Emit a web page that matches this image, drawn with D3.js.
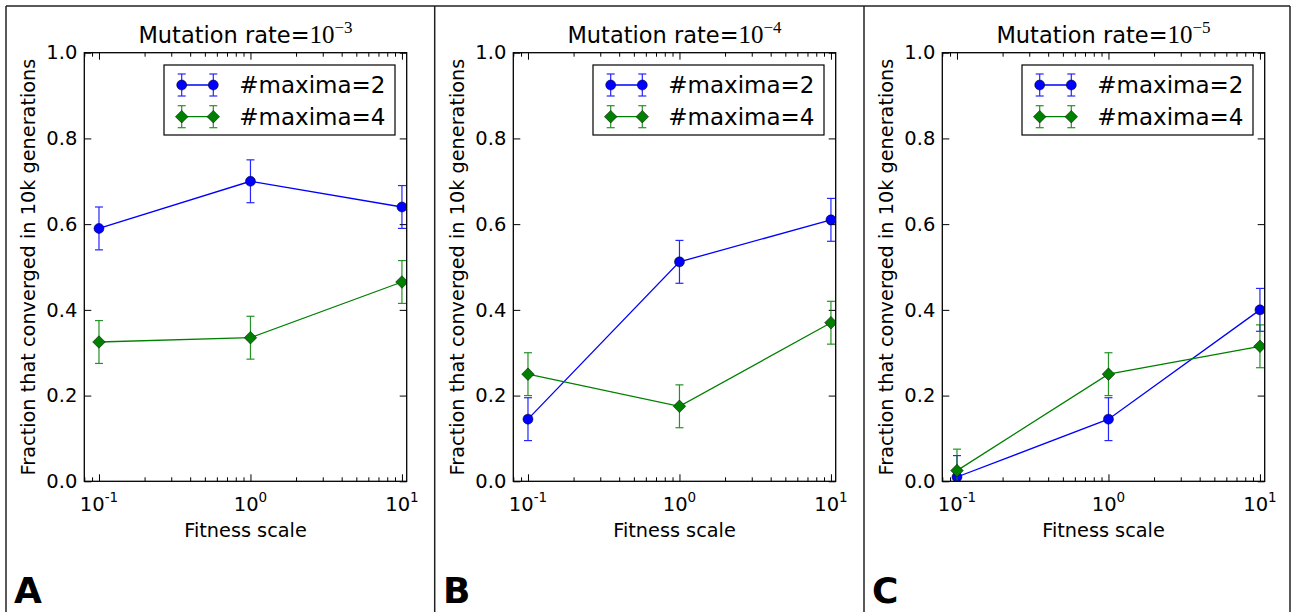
<!DOCTYPE html>
<html>
<head>
<meta charset="utf-8">
<script src="https://cdn.jsdelivr.net/npm/d3@7"></script>
<style>
  html, body { margin: 0; padding: 0; background: #fff; }
  svg { display: block; }
  text { font-family: "DejaVu Sans", sans-serif; fill: #000; }
</style>
</head>
<body>
<svg id="fig" width="1291" height="612"></svg>
<script>
// Fitness scale values on the x axis (log scale)
const fitnessScale = [0.1, 1, 10];

// Panels: mutation-rate exponent and panel letter
const rateExponents = [-3, -4, -5];
const panelLetters = ["A", "B", "C"];

// Series names
const seriesNames = ["#maxima=2", "#maxima=4"];

// Fraction converged in 10k generations, per panel
const maxima2_A = [0.59, 0.70, 0.64];
const maxima4_A = [0.325, 0.335, 0.465];
const maxima2_B = [0.145, 0.512, 0.61];
const maxima4_B = [0.25, 0.175, 0.37];
const maxima2_C = [0.01, 0.145, 0.40];
const maxima4_C = [0.025, 0.25, 0.315];

// Error bar half-lengths
const err2 = [0.05, 0.05, 0.05];
const err4 = [0.05, 0.05, 0.05];

// Axis ticks
const yTicks = [0.0, 0.2, 0.4, 0.6, 0.8, 1.0];
const xMajorTicks = [0.1, 1, 10];
const xTickExponents = ["-1", "0", "1"];

const panels = [
  { exp: rateExponents[0], letter: panelLetters[0], s2: maxima2_A, s4: maxima4_A },
  { exp: rateExponents[1], letter: panelLetters[1], s2: maxima2_B, s4: maxima4_B },
  { exp: rateExponents[2], letter: panelLetters[2], s2: maxima2_C, s4: maxima4_C }
];

const svg = d3.select("#fig");

// layout
const panelW = 429;
const panelLeft0 = 6;
const axOffX = 78.3, axTop = 52.7, axW = 322.4, axH = 428.6;
const BLUE = "#0000ff", GREEN = "#008000";
const FS_TICK = 19.5, FS_LABEL = 19.3, FS_TITLE = 22.5, FS_LEGEND = 23;

const x = d3.scaleLog().domain([0.08, 10.75]).range([0, axW]);
const y = d3.scaleLinear().domain([0, 1]).range([axH, 0]);

const minorTicks = [];
[0.01, 0.1, 1].forEach(d => { for (let k = 2; k <= 9; k++) minorTicks.push(d * k); });
const xMinor = minorTicks.filter(v => v >= 0.08 && v <= 10.75 && !xMajorTicks.includes(v));

// outer frame lines
const frame = svg.append("g").attr("stroke", "#222").attr("stroke-width", 1.5).attr("fill", "none");
frame.append("line").attr("x1", panelLeft0).attr("x2", 1290).attr("y1", 6).attr("y2", 6);
[0, 1, 2, 3].forEach(i => {
  const fx = i < 3 ? panelLeft0 + i * panelW - (i === 1 ? 0.3 : 0) : 1290;
  frame.append("line").attr("x1", fx).attr("x2", fx).attr("y1", 6).attr("y2", 612);
});

panels.forEach((p, i) => {
  const pLeft = panelLeft0 + i * panelW;
  const g = svg.append("g").attr("transform", `translate(${pLeft + axOffX},${axTop})`);

  const clipId = "clip" + i;
  g.append("clipPath").attr("id", clipId)
    .append("rect").attr("x", 0).attr("y", 0).attr("width", axW).attr("height", axH);

  // ticks (inward, all four sides)
  g.append("g").attr("transform", `translate(0,${axH})`)
    .call(d3.axisBottom(x).tickValues(xMajorTicks).tickSize(-7).tickFormat(""));
  g.append("g").attr("transform", `translate(0,${axH})`)
    .call(d3.axisBottom(x).tickValues(xMinor).tickSize(-4).tickFormat(""));
  g.append("g").call(d3.axisTop(x).tickValues(xMajorTicks).tickSize(-7).tickFormat(""));
  g.append("g").call(d3.axisTop(x).tickValues(xMinor).tickSize(-4).tickFormat(""));
  const yl = g.append("g").call(d3.axisLeft(y).tickValues(yTicks).tickSize(-7).tickPadding(7).tickFormat(d3.format(".1f")));
  g.append("g").attr("transform", `translate(${axW},0)`).call(d3.axisRight(y).tickValues(yTicks).tickSize(-7).tickFormat(""));
  g.selectAll(".domain").remove();
  g.selectAll(".tick line").attr("stroke", "#000").attr("stroke-width", 1);
  yl.selectAll("text").attr("font-family", "DejaVu Sans").attr("font-size", FS_TICK).attr("fill", "#000");

  // x tick labels with superscript exponents
  xMajorTicks.forEach((v, k) => {
    const t = g.append("text").attr("x", x(v)).attr("y", axH + 29.5)
      .attr("text-anchor", "middle").attr("font-size", FS_TICK);
    t.append("tspan").text("10");
    t.append("tspan").attr("dy", -9).attr("font-size", 13.5).text(xTickExponents[k]);
  });

  // series: error bars, lines, markers
  const plot = g.append("g").attr("clip-path", `url(#${clipId})`);
  const series = [
    { vals: p.s2, err: err2, color: BLUE, shape: "circle" },
    { vals: p.s4, err: err4, color: GREEN, shape: "diamond" }
  ];
  series.forEach(s => {
    const pts = fitnessScale.map((f, k) => ({ f, v: s.vals[k], e: s.err[k] }));
    const eb = plot.append("g").attr("stroke", s.color).attr("stroke-width", 1.2).attr("opacity", 0.85);
    pts.forEach(d => {
      eb.append("line").attr("x1", x(d.f)).attr("x2", x(d.f)).attr("y1", y(d.v - d.e)).attr("y2", y(d.v + d.e));
      [d.v - d.e, d.v + d.e].forEach(c => {
        eb.append("line").attr("x1", x(d.f) - 4).attr("x2", x(d.f) + 4).attr("y1", y(c)).attr("y2", y(c));
      });
    });
    plot.append("path").datum(pts)
      .attr("d", d3.line().x(d => x(d.f)).y(d => y(d.v)))
      .attr("fill", "none").attr("stroke", s.color).attr("stroke-width", 1.3);
    const sym = d3.symbol(d3.symbolCircle, Math.PI * 25);
    pts.forEach(d => {
      if (s.shape === "circle") {
        plot.append("path").attr("d", sym()).attr("transform", `translate(${x(d.f)},${y(d.v)})`)
          .attr("fill", s.color).attr("stroke", "#000").attr("stroke-width", 0.5);
      } else {
        const h = 6.3;
        plot.append("path").attr("d", `M0,${-h}L${h},0L0,${h}L${-h},0Z`)
          .attr("transform", `translate(${x(d.f)},${y(d.v)})`)
          .attr("fill", s.color).attr("stroke", "#000").attr("stroke-width", 0.5);
      }
    });
  });

  // spines
  g.append("rect").attr("x", 0).attr("y", 0).attr("width", axW).attr("height", axH)
    .attr("fill", "none").attr("stroke", "#000").attr("stroke-width", 1.3);

  // legend
  const lgW = 231, lgH = 70;
  const lg = g.append("g").attr("transform", `translate(${axW - 11.7 - lgW},12.3)`);
  lg.append("rect").attr("width", lgW).attr("height", lgH).attr("fill", "#fff")
    .attr("stroke", "#000").attr("stroke-width", 1.2);
  series.forEach((s, k) => {
    const ry = 20 + k * 31.7;
    const hx = [17.7, 49.3];
    lg.append("line").attr("x1", hx[0]).attr("x2", hx[1]).attr("y1", ry).attr("y2", ry)
      .attr("stroke", s.color).attr("stroke-width", 1.3);
    hx.forEach(cx => {
      const eb = lg.append("g").attr("stroke", s.color).attr("stroke-width", 1.2).attr("opacity", 0.85);
      eb.append("line").attr("x1", cx).attr("x2", cx).attr("y1", ry - 11).attr("y2", ry + 11);
      eb.append("line").attr("x1", cx - 4).attr("x2", cx + 4).attr("y1", ry - 11).attr("y2", ry - 11);
      eb.append("line").attr("x1", cx - 4).attr("x2", cx + 4).attr("y1", ry + 11).attr("y2", ry + 11);
      if (s.shape === "circle") {
        lg.append("circle").attr("cx", cx).attr("cy", ry).attr("r", 5)
          .attr("fill", s.color).attr("stroke", "#000").attr("stroke-width", 0.5);
      } else {
        const h = 6.3;
        lg.append("path").attr("d", `M${cx},${ry - h}L${cx + h},${ry}L${cx},${ry + h}L${cx - h},${ry}Z`)
          .attr("fill", s.color).attr("stroke", "#000").attr("stroke-width", 0.5);
      }
    });
    lg.append("text").attr("x", 75.3).attr("y", ry).attr("dy", "0.36em")
      .attr("font-size", FS_LEGEND).text(seriesNames[k]);
  });

  // title
  const tt = g.append("text").attr("x", axW / 2).attr("y", -10).attr("text-anchor", "middle");
  tt.append("tspan").attr("font-size", FS_TITLE).text("Mutation rate=");
  tt.append("tspan").attr("font-family", "Liberation Serif").attr("font-size", 25).text("10");
  tt.append("tspan").attr("font-family", "Liberation Serif").attr("font-size", 17).attr("dy", -10)
    .text("\u2212" + String(-p.exp));

  // axis labels
  g.append("text").attr("x", axW / 2).attr("y", axH + 56).attr("text-anchor", "middle")
    .attr("font-size", FS_LABEL).text("Fitness scale");
  g.append("text").attr("transform", `translate(-49.5,${axH / 2}) rotate(-90)`)
    .attr("text-anchor", "middle").attr("font-size", FS_LABEL)
    .text("Fraction that converged in 10k generations");

  // panel letter
  svg.append("text").attr("x", pLeft + 8).attr("y", 602.7)
    .attr("font-family", "Liberation Sans").attr("font-weight", "bold").attr("font-size", 36)
    .text(p.letter);
});
</script>
</body>
</html>
